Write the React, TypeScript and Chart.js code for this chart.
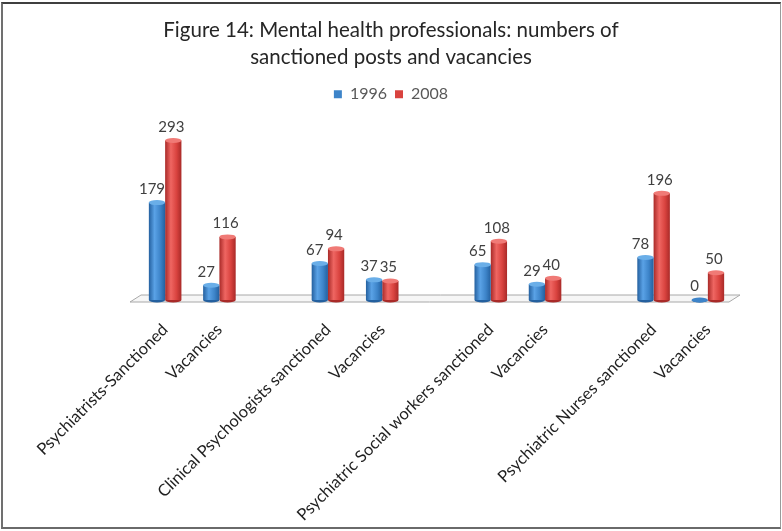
import React, { useEffect, useRef } from "react";
import { Chart, registerables } from "chart.js";

Chart.register(...registerables);

const categories = [
  "Psychiatrists-Sanctioned",
  "Vacancies",
  "",
  "Clinical Psychologists sanctioned",
  "Vacancies",
  "",
  "Psychiatric Social workers sanctioned",
  "Vacancies",
  "",
  "Psychiatric Nurses sanctioned",
  "Vacancies",
];
const values1996: (number | null)[] = [179, 27, null, 67, 37, null, 65, 29, null, 78, 0];
const values2008: (number | null)[] = [293, 116, null, 94, 35, null, 108, 40, null, 196, 50];
const titleLines = ["Figure 14: Mental health professionals: numbers of", "sanctioned posts and vacancies"];
const seriesNames = ["1996", "2008"];

const COLORS = [
  { solid: "#3d84c9", dark: "#24609f", light: "#5aa2e6", cap: "#6aaee8" },
  { solid: "#d9433f", dark: "#a92a28", light: "#ef6662", cap: "#f07a76" },
];

const FONT = "Lato, 'Open Sans', sans-serif";

const cylinderPlugin = {
  id: "cylinders",
  beforeDraw(chart: any) {
    const { ctx, chartArea, scales } = chart;
    const y0 = scales.y.getPixelForValue(0);
    const left = chartArea.left - 8;
    const right = chartArea.right;
    ctx.save();
    ctx.beginPath();
    ctx.moveTo(left, y0 + 2);
    ctx.lineTo(right - 6, y0 + 2);
    ctx.lineTo(right + 5, y0 - 5);
    ctx.lineTo(left + 11, y0 - 5);
    ctx.closePath();
    ctx.fillStyle = "#f6f6f6";
    ctx.fill();
    ctx.strokeStyle = "#a8a8a8";
    ctx.lineWidth = 1;
    ctx.stroke();
    ctx.restore();
  },
  beforeDatasetsDraw(chart: any) {
    const { ctx } = chart;
    chart.data.datasets.forEach((ds: any, di: number) => {
      const meta = chart.getDatasetMeta(di);
      const c = COLORS[di];
      meta.data.forEach((el: any) => {
        const w = el.width;
        if (!w || isNaN(el.x)) return;
        const g = ctx.createLinearGradient(el.x - w / 2, 0, el.x + w / 2, 0);
        g.addColorStop(0, c.dark);
        g.addColorStop(0.35, c.light);
        g.addColorStop(0.7, c.solid);
        g.addColorStop(1, c.dark);
        el.options = Object.assign({}, el.options, { backgroundColor: g });
      });
    });
  },
  afterDatasetsDraw(chart: any) {
    const { ctx } = chart;
    ctx.save();
    chart.data.datasets.forEach((ds: any, di: number) => {
      const meta = chart.getDatasetMeta(di);
      const c = COLORS[di];
      meta.data.forEach((el: any, i: number) => {
        const v = ds.data[i];
        if (v === null || v === undefined) return;
        const w = el.width;
        const base = el.base;
        ctx.beginPath();
        ctx.ellipse(el.x, base, w / 2, 2.5, 0, 0, Math.PI);
        ctx.fillStyle = c.dark;
        ctx.fill();
        ctx.beginPath();
        ctx.ellipse(el.x, el.y, w / 2, 2.5, 0, 0, Math.PI * 2);
        ctx.fillStyle = v === 0 ? c.solid : c.cap;
        ctx.fill();
        ctx.font = `15px ${FONT}`;
        ctx.fillStyle = "#404040";
        ctx.textAlign = "center";
        ctx.textBaseline = "bottom";
        ctx.fillText(String(v), el.x + (di === 0 ? -5 : -2), el.y - 6);
      });
    });
    ctx.restore();
  },
};

export default function App() {
  const ref = useRef<HTMLCanvasElement | null>(null);
  useEffect(() => {
    if (!ref.current) return;
    const chart = new Chart(ref.current, {
      type: "bar",
      data: {
        labels: categories,
        datasets: [
          { label: seriesNames[0], data: values1996, backgroundColor: COLORS[0].solid, borderWidth: 0 },
          { label: seriesNames[1], data: values2008, backgroundColor: COLORS[1].solid, borderWidth: 0 },
        ],
      },
      options: {
        responsive: false,
        animation: false,
        layout: { padding: { left: 8, right: 8, top: 17, bottom: 6 } },
        datasets: { bar: { barPercentage: 1, categoryPercentage: 0.6 } },
        plugins: {
          title: {
            display: true,
            text: titleLines,
            color: "#262626",
            font: { family: FONT, size: 20.5, weight: "normal", lineHeight: 1.3 },
            padding: { top: 0, bottom: 8 },
          },
          legend: {
            display: true,
            labels: {
              boxWidth: 8,
              boxHeight: 8,
              padding: 8,
              color: "#595959",
              font: { family: FONT, size: 16 },
              generateLabels: () =>
                seriesNames.map((n, i) => ({
                  text: n,
                  fillStyle: COLORS[i].solid,
                  strokeStyle: COLORS[i].solid,
                  lineWidth: 0,
                  datasetIndex: i,
                  fontColor: "#595959",
                })),
            },
          },
          tooltip: { enabled: false },
        },
        scales: {
          x: {
            grid: { display: false },
            border: { display: false },
            ticks: {
              autoSkip: false,
              minRotation: 45,
              maxRotation: 45,
              color: "#1f1f1f",
              font: { family: FONT, size: 16.5 },
              padding: 12,
            },
            afterFit: (s: any) => {
              s.height = 225;
            },
          },
          y: {
            display: true,
            position: "left",
            min: 0,
            max: 345,
            grid: { display: false },
            border: { display: false },
            ticks: { display: false },
            afterFit: (s: any) => {
              s.width = 130;
            },
          },
          y2: {
            display: true,
            position: "right",
            min: 0,
            max: 345,
            grid: { display: false },
            border: { display: false },
            ticks: { display: false },
            afterFit: (s: any) => {
              s.width = 39;
            },
          },
        },
      },
      plugins: [cylinderPlugin],
    });
    return () => chart.destroy();
  }, []);
  return (
    <div style={{ position: "fixed", left: 0, top: 0, width: 782, height: 531, background: "#fff" }}>
      <canvas ref={ref} width={782} height={531} style={{ position: "absolute", left: 0, top: 0 }} />
      <div
        style={{
          position: "absolute",
          left: 1,
          top: 2,
          width: 780,
          height: 527,
          boxSizing: "border-box",
          borderTop: "2px solid #3f3f3f",
          borderLeft: "2px solid #707070",
          borderBottom: "2px solid #6a6a6a",
          borderRight: "1px solid #9a9a9a",
          pointerEvents: "none",
        }}
      />
    </div>
  );
}
